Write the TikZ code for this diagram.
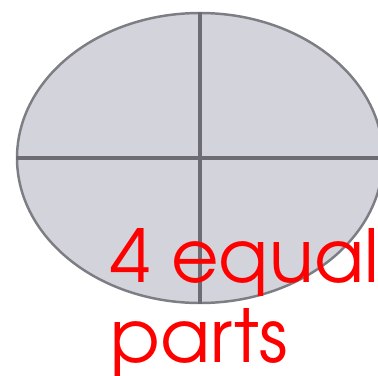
\documentclass[tikz,border=0pt]{standalone}
\usepackage{fontspec}
\setmainfont{texgyreadventor-regular.otf}
\usetikzlibrary{shapes.geometric,positioning}
\definecolor{oval}{RGB}{211,211,219}
\definecolor{rim}{RGB}{125,125,132}
\definecolor{cut}{RGB}{108,108,114}
\definecolor{note}{RGB}{255,0,0}
\tikzset{
  disc/.style={ellipse,draw=rim,fill=oval,line width=0.7pt,inner sep=0pt,
    minimum width=3.66cm,minimum height=2.9cm},
  divider/.style={draw=cut,line width=0.9pt},
  label/.style={text=note,font=\fontsize{20.8pt}{22.7pt}\selectfont,align=left,inner sep=0pt},
}
\begin{document}
\begin{tikzpicture}
  \useasboundingbox (0,0) rectangle (3.78,-3.75);
  \clip (0,0) rectangle (3.78,-3.75);
  \node[disc] (o) at (2.00,-1.58) {};
  \draw[divider] (o.north) -- (o.south);
  \draw[divider] (o.west) -- (o.east);
  \node[label,anchor=base west] (t) at (1.10,-3.62) {4 equal\\parts};
\end{tikzpicture}
\end{document}
